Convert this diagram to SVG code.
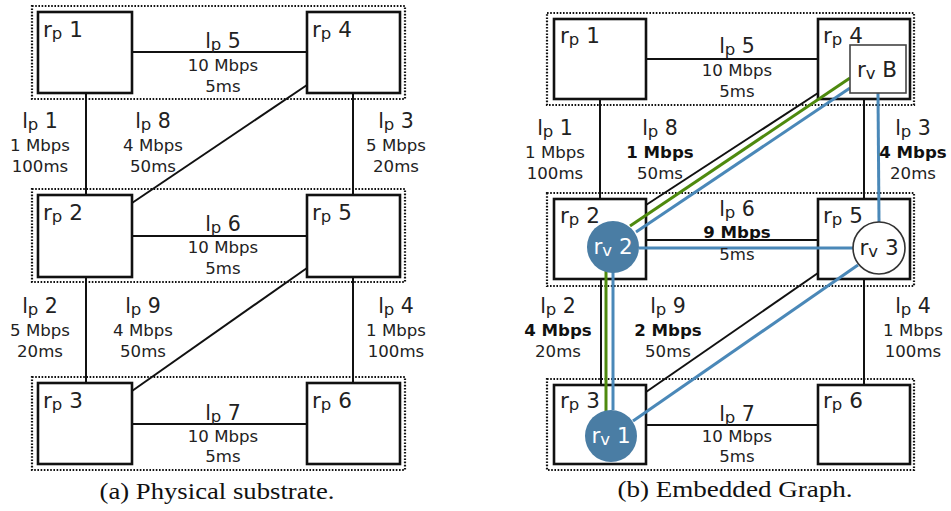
<svg xmlns="http://www.w3.org/2000/svg" width="951" height="511" viewBox="0 0 951 511">
<style>
.bg{fill:#fff}
.grp{fill:none;stroke:#111;stroke-width:2.2;stroke-dasharray:1.6 1.6}
.box{fill:none;stroke:#111;stroke-width:2.6}
.vbox{fill:#fff;stroke:#444;stroke-width:1.6}
.ln{stroke:#111;stroke-width:2;fill:none}
.bl{stroke:#4a88b8;stroke-width:3;fill:none}
.gr{stroke:#4e8a0e;stroke-width:3;fill:none}
.vc{fill:#4a7da4}
.vw{fill:#fff;stroke:#333;stroke-width:1.6}
text{font-family:"DejaVu Sans","Liberation Sans",sans-serif;fill:#222}
.nl{font-size:21.5px}
.el{font-size:20.5px;text-anchor:middle}
.sm{font-size:16.6px;text-anchor:middle}
.bd{font-size:16.6px;text-anchor:middle;font-weight:bold;fill:#111}
.sub{font-size:16.5px}
.wt{fill:#fff;font-size:21.5px;text-anchor:middle}
.bt{font-size:21.5px;text-anchor:middle}
.cap{font-family:"Liberation Serif","DejaVu Serif",serif;font-size:23px;text-anchor:middle;fill:#111}
</style>
<rect class="bg" x="0" y="0" width="951" height="511"/>

<!-- Left panel: group frames -->
<g id="left-frames">
<rect class="grp" x="32" y="6" width="373" height="93"/>
<rect class="grp" x="32" y="189" width="373" height="93"/>
<rect class="grp" x="32" y="377" width="373" height="93"/>
</g>

<g id="left-connectors">
<line class="ln" x1="132" y1="52" x2="307" y2="52"/>
<line class="ln" x1="132" y1="236" x2="307" y2="236"/>
<line class="ln" x1="132" y1="424" x2="307" y2="424"/>
<line class="ln" x1="86" y1="93" x2="86" y2="195"/>
<line class="ln" x1="86" y1="277" x2="86" y2="383"/>
<line class="ln" x1="353" y1="93" x2="353" y2="195"/>
<line class="ln" x1="353" y1="277" x2="353" y2="383"/>
<line class="ln" x1="307" y1="85" x2="132" y2="203"/>
<line class="ln" x1="307" y1="268" x2="132" y2="391"/>
</g>

<g id="L-rp1"><rect class="box" x="38" y="12" width="94" height="81"/><text class="nl" x="43" y="37">r<tspan class="sub" dy="2">p</tspan><tspan dy="-2"> 1</tspan></text></g>
<g id="L-rp4"><rect class="box" x="307" y="12" width="93" height="81"/><text class="nl" x="312" y="37">r<tspan class="sub" dy="2">p</tspan><tspan dy="-2"> 4</tspan></text></g>
<g id="L-rp2"><rect class="box" x="38" y="195" width="94" height="82"/><text class="nl" x="43" y="220">r<tspan class="sub" dy="2">p</tspan><tspan dy="-2"> 2</tspan></text></g>
<g id="L-rp5"><rect class="box" x="307" y="195" width="93" height="82"/><text class="nl" x="312" y="220">r<tspan class="sub" dy="2">p</tspan><tspan dy="-2"> 5</tspan></text></g>
<g id="L-rp3"><rect class="box" x="38" y="383" width="94" height="81"/><text class="nl" x="43" y="408">r<tspan class="sub" dy="2">p</tspan><tspan dy="-2"> 3</tspan></text></g>
<g id="L-rp6"><rect class="box" x="307" y="383" width="93" height="81"/><text class="nl" x="312" y="408">r<tspan class="sub" dy="2">p</tspan><tspan dy="-2"> 6</tspan></text></g>

<g id="left-labels">
<text class="el" x="223" y="48">l<tspan class="sub" dy="2">p</tspan><tspan dy="-2"> 5</tspan></text>
<text class="sm" x="223" y="71">10 Mbps</text><text class="sm" x="223" y="92">5ms</text>
<text class="el" x="223" y="231">l<tspan class="sub" dy="2">p</tspan><tspan dy="-2"> 6</tspan></text>
<text class="sm" x="223" y="253">10 Mbps</text><text class="sm" x="223" y="274">5ms</text>
<text class="el" x="223" y="420">l<tspan class="sub" dy="2">p</tspan><tspan dy="-2"> 7</tspan></text>
<text class="sm" x="223" y="442">10 Mbps</text><text class="sm" x="223" y="462">5ms</text>
<text class="el" x="40" y="128">l<tspan class="sub" dy="2">p</tspan><tspan dy="-2"> 1</tspan></text>
<text class="sm" x="40" y="151">1 Mbps</text><text class="sm" x="40" y="172">100ms</text>
<text class="el" x="153" y="128">l<tspan class="sub" dy="2">p</tspan><tspan dy="-2"> 8</tspan></text>
<text class="sm" x="153" y="151">4 Mbps</text><text class="sm" x="153" y="172">50ms</text>
<text class="el" x="396" y="128">l<tspan class="sub" dy="2">p</tspan><tspan dy="-2"> 3</tspan></text>
<text class="sm" x="396" y="151">5 Mbps</text><text class="sm" x="396" y="172">20ms</text>
<text class="el" x="40" y="313">l<tspan class="sub" dy="2">p</tspan><tspan dy="-2"> 2</tspan></text>
<text class="sm" x="40" y="336">5 Mbps</text><text class="sm" x="40" y="357">20ms</text>
<text class="el" x="143" y="313">l<tspan class="sub" dy="2">p</tspan><tspan dy="-2"> 9</tspan></text>
<text class="sm" x="143" y="336">4 Mbps</text><text class="sm" x="143" y="357">50ms</text>
<text class="el" x="396" y="313">l<tspan class="sub" dy="2">p</tspan><tspan dy="-2"> 4</tspan></text>
<text class="sm" x="396" y="336">1 Mbps</text><text class="sm" x="396" y="357">100ms</text>
<text class="cap" x="217" y="499" textLength="235" lengthAdjust="spacingAndGlyphs">(a) Physical substrate.</text>
</g>

<!-- Right panel -->
<g id="right-frames">
<rect class="grp" x="547" y="13" width="367" height="92"/>
<rect class="grp" x="547" y="193" width="367" height="93"/>
<rect class="grp" x="547" y="379" width="367" height="91"/>
</g>

<g id="right-connectors">
<line class="ln" x1="646" y1="59" x2="818" y2="59"/>
<line class="ln" x1="646" y1="240" x2="818" y2="240"/>
<line class="ln" x1="646" y1="425" x2="818" y2="425"/>
<line class="ln" x1="600" y1="99" x2="600" y2="199"/>
<line class="ln" x1="601" y1="279" x2="601" y2="385"/>
<line class="ln" x1="864" y1="99" x2="864" y2="199"/>
<line class="ln" x1="864" y1="279" x2="864" y2="385"/>
<line class="ln" x1="818" y1="93" x2="646" y2="205"/>
<line class="ln" x1="818" y1="273" x2="646" y2="392"/>
</g>

<g id="R-rp1"><rect class="box" x="554" y="19" width="92" height="80"/><text class="nl" x="560" y="43">r<tspan class="sub" dy="2">p</tspan><tspan dy="-2"> 1</tspan></text></g>
<g id="R-rp4"><rect class="box" x="818" y="19" width="92" height="80"/><text class="nl" x="823" y="43">r<tspan class="sub" dy="2">p</tspan><tspan dy="-2"> 4</tspan></text></g>
<g id="R-rp2"><rect class="box" x="554" y="199" width="92" height="80"/><text class="nl" x="560" y="223">r<tspan class="sub" dy="2">p</tspan><tspan dy="-2"> 2</tspan></text></g>
<g id="R-rp5"><rect class="box" x="818" y="199" width="92" height="80"/><text class="nl" x="823" y="223">r<tspan class="sub" dy="2">p</tspan><tspan dy="-2"> 5</tspan></text></g>
<g id="R-rp3"><rect class="box" x="554" y="385" width="92" height="79"/><text class="nl" x="560" y="408">r<tspan class="sub" dy="2">p</tspan><tspan dy="-2"> 3</tspan></text></g>
<g id="R-rp6"><rect class="box" x="818" y="385" width="92" height="79"/><text class="nl" x="823" y="408">r<tspan class="sub" dy="2">p</tspan><tspan dy="-2"> 6</tspan></text></g>

<g id="virtual-links">
<line class="gr" x1="850" y1="78" x2="630" y2="226"/>
<line class="bl" x1="850" y1="88" x2="636" y2="232"/>
<line class="bl" x1="878" y1="93" x2="879" y2="222"/>
<line class="bl" x1="639" y1="248" x2="853" y2="248"/>
<line class="gr" x1="606" y1="270" x2="606" y2="411"/>
<line class="bl" x1="613" y1="272" x2="613" y2="410"/>
<line class="bl" x1="858" y1="265" x2="633" y2="421"/>
</g>

<g id="rvB"><rect class="vbox" x="850" y="45" width="56" height="48"/><text class="bt" x="877" y="77">r<tspan class="sub" dy="2">v</tspan><tspan dy="-2"> B</tspan></text></g>
<g id="rv2"><circle class="vc" cx="613" cy="247" r="26"/><text class="wt" x="613" y="254">r<tspan class="sub" dy="2">v</tspan><tspan dy="-2"> 2</tspan></text></g>
<g id="rv3"><circle class="vw" cx="879" cy="248" r="26"/><text class="bt" x="879" y="255">r<tspan class="sub" dy="2">v</tspan><tspan dy="-2"> 3</tspan></text></g>
<g id="rv1"><circle class="vc" cx="611" cy="436" r="26"/><text class="wt" x="611" y="443">r<tspan class="sub" dy="2">v</tspan><tspan dy="-2"> 1</tspan></text></g>

<g id="right-labels">
<text class="el" x="737" y="53">l<tspan class="sub" dy="2">p</tspan><tspan dy="-2"> 5</tspan></text>
<text class="sm" x="737" y="76">10 Mbps</text><text class="sm" x="737" y="97">5ms</text>
<text class="el" x="737" y="216">l<tspan class="sub" dy="2">p</tspan><tspan dy="-2"> 6</tspan></text>
<text class="bd" x="737" y="238">9 Mbps</text><text class="sm" x="737" y="260">5ms</text>
<text class="el" x="737" y="421">l<tspan class="sub" dy="2">p</tspan><tspan dy="-2"> 7</tspan></text>
<text class="sm" x="737" y="442">10 Mbps</text><text class="sm" x="737" y="462">5ms</text>
<text class="el" x="555" y="135">l<tspan class="sub" dy="2">p</tspan><tspan dy="-2"> 1</tspan></text>
<text class="sm" x="555" y="158">1 Mbps</text><text class="sm" x="555" y="179">100ms</text>
<text class="el" x="660" y="135">l<tspan class="sub" dy="2">p</tspan><tspan dy="-2"> 8</tspan></text>
<text class="bd" x="660" y="158">1 Mbps</text><text class="sm" x="660" y="179">50ms</text>
<text class="el" x="913" y="135">l<tspan class="sub" dy="2">p</tspan><tspan dy="-2"> 3</tspan></text>
<text class="bd" x="913" y="158">4 Mbps</text><text class="sm" x="913" y="179">20ms</text>
<text class="el" x="558" y="313">l<tspan class="sub" dy="2">p</tspan><tspan dy="-2"> 2</tspan></text>
<text class="bd" x="558" y="336">4 Mbps</text><text class="sm" x="558" y="357">20ms</text>
<text class="el" x="668" y="313">l<tspan class="sub" dy="2">p</tspan><tspan dy="-2"> 9</tspan></text>
<text class="bd" x="668" y="336">2 Mbps</text><text class="sm" x="668" y="357">50ms</text>
<text class="el" x="913" y="313">l<tspan class="sub" dy="2">p</tspan><tspan dy="-2"> 4</tspan></text>
<text class="sm" x="913" y="336">1 Mbps</text><text class="sm" x="913" y="357">100ms</text>
<text class="cap" x="735" y="497" textLength="235" lengthAdjust="spacingAndGlyphs">(b) Embedded Graph.</text>
</g>
</svg>
